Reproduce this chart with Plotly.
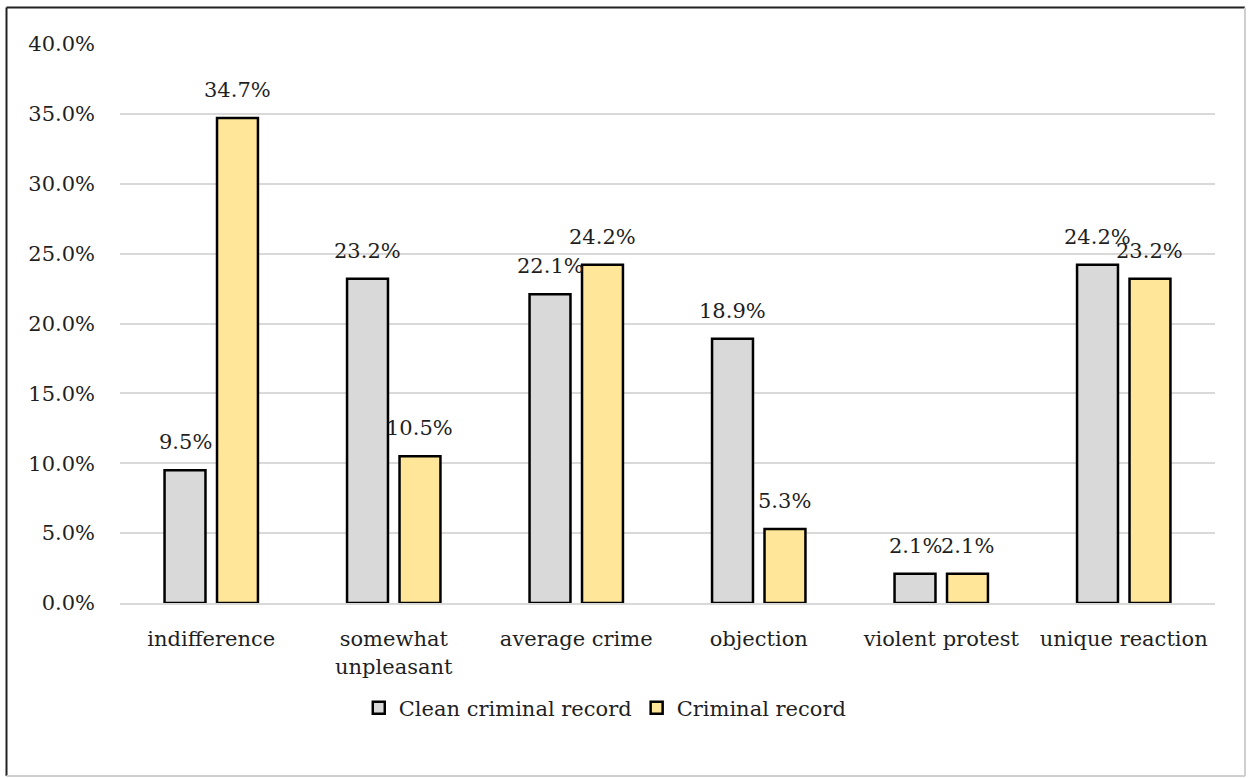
import plotly.graph_objects as go

categories = ["indifference", "somewhat<br>unpleasant", "average crime", "objection",
              "violent protest", "unique reaction"]
clean_record = [9.5, 23.2, 22.1, 18.9, 2.1, 24.2]
criminal_record = [34.7, 10.5, 24.2, 5.3, 2.1, 23.2]
series_names = ["Clean criminal record", "Criminal record"]
series_colors = ["#d9d9d9", "#ffe699"]
y_ticks = [0, 5, 10, 15, 20, 25, 30, 35, 40]

FONT = "DejaVu Serif"
FS = 21
TXT = "#1f1f1f"
fig = go.Figure()
for name, vals, col in zip(series_names, [clean_record, criminal_record], series_colors):
    fig.add_trace(go.Bar(
        x=categories, y=vals, name=name,
        marker=dict(color=col, line=dict(color="black", width=2.5)),
    ))

# data labels
annotations = []
for vals, shift in [(clean_record, -26), (criminal_record, 26)]:
    for c, v in zip(categories, vals):
        annotations.append(dict(
            x=c, y=v, xref="x", yref="y", text=f"{v:.1f}%", showarrow=False,
            xshift=shift, yshift=14, yanchor="bottom", xanchor="center",
            font=dict(family=FONT, size=FS, color=TXT),
        ))

# outer frame
W, H = 1095, 559
def px(x): return (x - 120) / W
def py(y): return (603 - y) / H
shapes = [
    dict(type="line", xref="paper", yref="paper", x0=px(6.5), x1=px(1245), y0=py(7.5), y1=py(7.5), line=dict(color="#222", width=2)),
    dict(type="line", xref="paper", yref="paper", x0=px(6.5), x1=px(6.5), y0=py(7.5), y1=py(776), line=dict(color="#222", width=2)),
    dict(type="line", xref="paper", yref="paper", x0=px(1245), x1=px(1245), y0=py(7.5), y1=py(776), line=dict(color="#cfcfcf", width=2)),
    dict(type="line", xref="paper", yref="paper", x0=px(6.5), x1=px(1245), y0=py(776), y1=py(776), line=dict(color="#cfcfcf", width=2)),
]

fig.update_layout(
    width=1248, height=778,
    margin=dict(l=120, r=33, t=44, b=175, autoexpand=False),
    paper_bgcolor="white", plot_bgcolor="white",
    barmode="group", bargap=0.425, bargroupgap=0.22,
    font=dict(family=FONT, size=FS, color=TXT),
    annotations=annotations, shapes=shapes,
    showlegend=True,
    legend=dict(orientation="h", xref="container", yref="container",
                x=0.485, y=1 - 708 / 778, xanchor="center", yanchor="middle",
                font=dict(family=FONT, size=FS, color=TXT),
                itemwidth=30, traceorder="normal"),
)
fig.update_yaxes(range=[0, 40], tickvals=y_ticks, ticktext=[f"{t:.1f}%" for t in y_ticks],
                 showgrid=True, gridcolor="#d9d9d9", gridwidth=2, automargin=False,
                 zeroline=False, showline=False, ticks="", ticklabelstandoff=24,
                 tickfont=dict(family=FONT, size=FS, color=TXT))
fig.update_xaxes(showline=True, linecolor="#d9d9d9", linewidth=2, ticks="", automargin=False,
                 ticklabelstandoff=16,
                 tickfont=dict(family=FONT, size=FS, color=TXT))
fig.write_html("out.html")
